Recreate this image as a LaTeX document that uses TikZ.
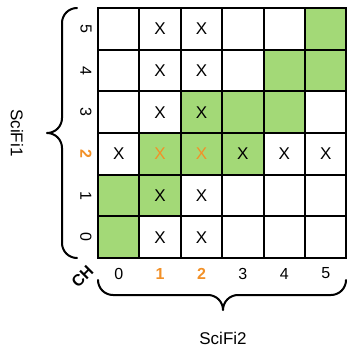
\documentclass[tikz,border=0pt]{standalone}
\usepackage{fontspec}
\setmainfont{Liberation Sans}
\usetikzlibrary{backgrounds}
\definecolor{cellgreen}{RGB}{163,217,119}
\definecolor{hlorange}{RGB}{242,145,40}
\begin{document}
\begin{tikzpicture}[x=1pt,y=-1pt,
  cell/.style={draw=black,line width=2pt,minimum width=41.4pt,minimum height=41.67pt,inner sep=0pt,outer sep=0pt},
  xmark/.style={inner sep=0pt,font=\fontsize{17}{17}\selectfont},
  tick/.style={inner sep=0pt,font=\fontsize{16}{16}\selectfont},
  hl/.style={text=hlorange,font=\fontsize{16}{16}\selectfont\bfseries},
  title/.style={inner sep=0pt,font=\fontsize{17}{17}\selectfont},
  brace/.style={draw=black,line width=2pt,line cap=round,line join=round}]
\useasboundingbox (0,0) rectangle (347,347);
\foreach \c in {0,...,5}{\foreach \r in {0,...,5}{
  \node[cell] (c\c\r) at ({98+41.4*(\c+0.5)},{258-41.667*(\r+0.5)}) {};}}
\begin{scope}[on background layer]
\foreach \p in {55,44,54,23,33,43,12,22,32,01,11,00}
  \fill[cellgreen] (c\p.south west) rectangle (c\p.north east);
\end{scope}
\foreach \p in {10,11,13,14,15,20,21,23,24,25,02,32,42,52}
  \node[xmark] (x\p) at (c\p) {X};
\foreach \p in {12,22}
  \node[xmark,text=hlorange] (x\p) at (c\p) {X};
% row labels
\foreach \r in {0,1,3,4,5}
  \node[tick,rotate=-90] (r\r) at (86,{258-41.667*(\r+0.5)}) {\r};
\node[tick,hl,rotate=-90] (r2) at (86,{258-41.667*2.5}) {2};
% column labels
\foreach \c in {0,3,4,5}
  \node[tick] (k\c) at ({98+41.4*(\c+0.5)},273.5) {\c};
\node[tick,hl] (k1) at ({98+41.4*1.5},273.5) {1};
\node[tick,hl] (k2) at ({98+41.4*2.5},273.5) {2};
\node[inner sep=0pt,rotate=45,font=\fontsize{16}{16}\selectfont\bfseries] (ch) at (82.5,276.5) {CH};
\node[title,rotate=-90] (s1) at (17,133) {SciFi1};
\node[title] (s2) at (223,338) {SciFi2};
% braces
\draw[brace] (77,8) .. controls (68.7,8) and (62,14.7) .. (62,23) -- (62,118)
  .. controls (62,126.3) and (55.3,133) .. (47,133)
  .. controls (55.3,133) and (62,139.7) .. (62,148) -- (62,243)
  .. controls (62,251.3) and (68.7,258) .. (77,258);
\draw[brace] (98,280) .. controls (98,288.3) and (104.7,295) .. (113,295) -- (208,295)
  .. controls (216.3,295) and (223,301.7) .. (223,310)
  .. controls (223,301.7) and (229.7,295) .. (238,295) -- (331,295)
  .. controls (339.3,295) and (346,288.3) .. (346,280);
\end{tikzpicture}
\end{document}
